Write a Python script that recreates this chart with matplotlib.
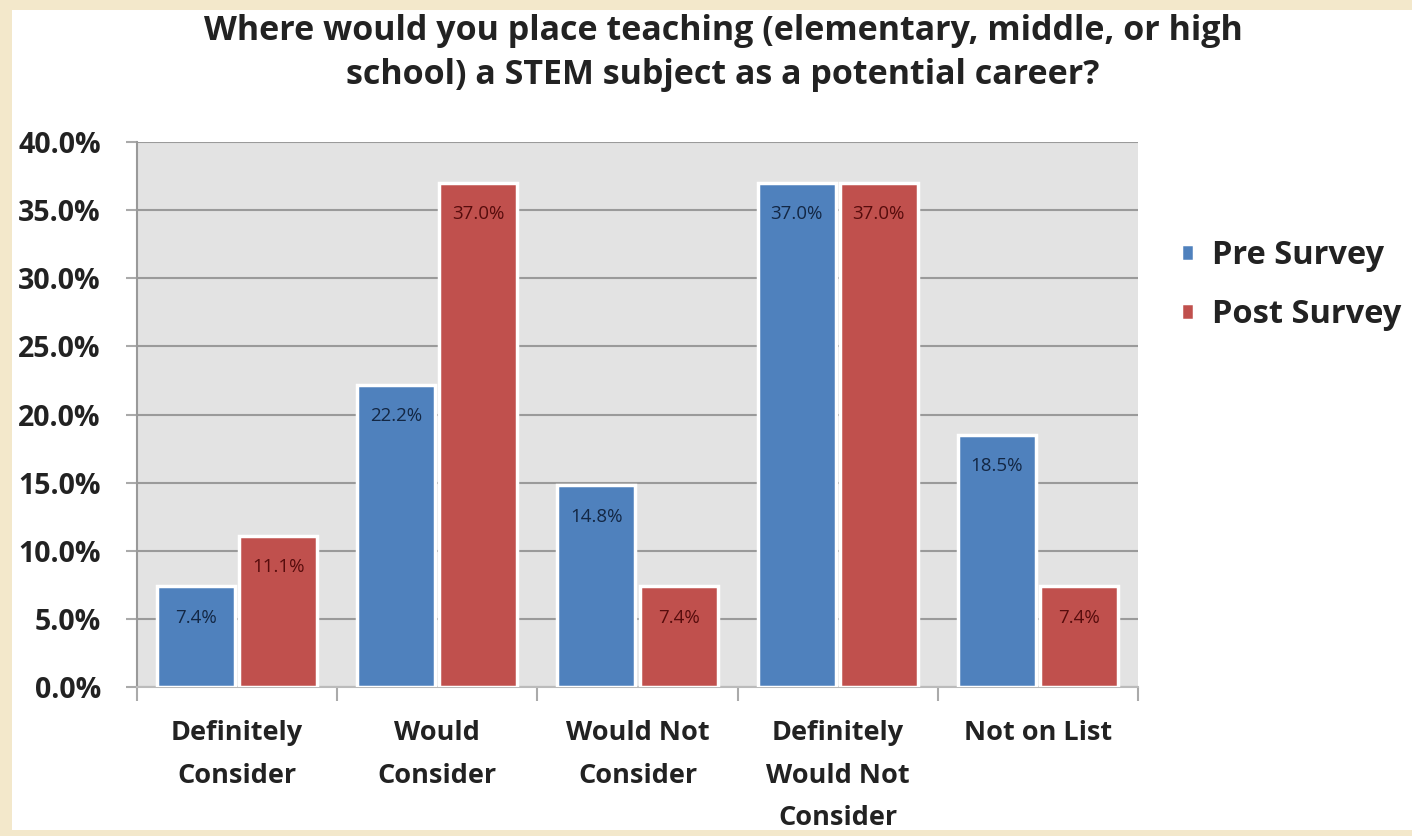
import numpy as np
import matplotlib
matplotlib.use("Agg")
import matplotlib.pyplot as plt
from matplotlib.patches import Rectangle

categories = ["Definitely\nConsider", "Would\nConsider", "Would Not\nConsider",
              "Definitely\nWould Not\nConsider", "Not on List"]
pre_survey = [7.4, 22.2, 14.8, 37.0, 18.5]
post_survey = [11.1, 37.0, 7.4, 37.0, 7.4]
series_names = ["Pre Survey", "Post Survey"]
yticks = [0, 5, 10, 15, 20, 25, 30, 35, 40]

BLUE = "#4f81bd"
RED = "#c0504d"
FONT = ["Open Sans", "DejaVu Sans"]

plt.rcParams["font.family"] = FONT

fig = plt.figure(figsize=(14.12, 8.36), dpi=100)
fig.patch.set_facecolor("#f3e8cb")

# white chart card on the parchment
bg = fig.add_axes([0, 0, 1, 1], zorder=-5)
bg.set_axis_off()
bg.add_patch(Rectangle((12 / 1412, 6 / 836), 1 - 12 / 1412, 1 - 16 / 836,
                       facecolor="white", edgecolor="none"))
bg.set_xlim(0, 1)
bg.set_ylim(0, 1)

ax = fig.add_axes([137 / 1412, 1 - 687 / 836, (1138 - 137) / 1412, (687 - 142) / 836])
ax.set_facecolor("#e3e3e3")

x = np.arange(len(categories))
w = 0.39
bars_pre = ax.bar(x - w / 2 - 0.01, pre_survey, w, color=BLUE, edgecolor="white",
                  linewidth=2.5, label=series_names[0], zorder=3)
bars_post = ax.bar(x + w / 2 + 0.01, post_survey, w, color=RED, edgecolor="white",
                   linewidth=2.5, label=series_names[1], zorder=3)

for bars, vals, col in [(bars_pre, pre_survey, "#132744"), (bars_post, post_survey, "#560c0c")]:
    for b, v in zip(bars, vals):
        ax.text(b.get_x() + b.get_width() / 2, v - 2.3, f"{v:.1f}%", ha="center",
                va="center", fontsize=13.5, color=col, zorder=4)

ax.set_xlim(-0.5, len(categories) - 0.5)
ax.set_ylim(0, 40)
ax.set_yticks(yticks)
ax.set_yticklabels([f"{t:.1f}%" for t in yticks], fontsize=20.5, fontweight="bold",
                   color="#222222")
ax.yaxis.grid(True, color="#9a9a9a", linewidth=1.5, zorder=1)
ax.set_axisbelow(True)

ax.set_xticks(x)
ax.set_xticklabels(categories, fontsize=19.5, fontweight="bold", color="#222222",
                   linespacing=1.82)
ax.tick_params(axis="x", length=0, pad=24)
ax.set_xticks(np.arange(-0.5, len(categories)), minor=True)
ax.tick_params(axis="x", which="minor", length=10, color="#aaaaaa", width=1.5)
ax.tick_params(axis="y", length=8, color="#aaaaaa", width=1.5, pad=18)

for side in ["top", "right"]:
    ax.spines[side].set_visible(False)
ax.spines["left"].set_color("#999999")
ax.spines["left"].set_linewidth(1.5)
ax.spines["bottom"].set_color("#bbbbbb")
ax.spines["bottom"].set_linewidth(1.5)

fig.text(0.512, 1 - 53 / 836,
         "Where would you place teaching (elementary, middle, or high\nschool) a STEM subject as a potential career?",
         ha="center", va="center", fontsize=24.5, fontweight="bold", color="#222222",
         linespacing=1.38)

leg = ax.legend(loc="upper left", bbox_to_anchor=(1.014, 0.876), frameon=False,
                handlelength=0.4, handleheight=0.4, handletextpad=0.55,
                labelspacing=0.8, prop={"weight": "bold", "size": 23.5})
for t in leg.get_texts():
    t.set_color("#222222")

fig.savefig("out.png", dpi=100, facecolor=fig.get_facecolor())
